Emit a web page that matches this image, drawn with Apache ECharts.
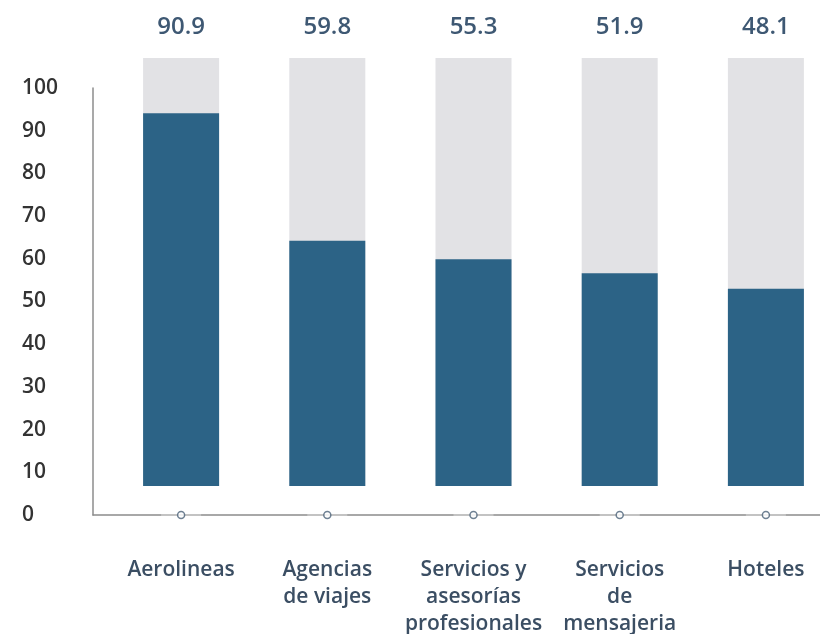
<!DOCTYPE html>
<html>
<head>
<meta charset="utf-8">
<script src="https://cdn.jsdelivr.net/npm/echarts@6/dist/echarts.min.js"></script>
<style>
  html, body { margin: 0; padding: 0; background: #ffffff; overflow: hidden; }
  /* the last category band runs slightly past the right edge of the view */
  #chart { width: 840px; height: 634px; }
</style>
</head>
<body>
<div id="chart"></div>
<script>
// Sector names (line breaks as printed under the axis)
const categories = [
  'Aerolineas',
  'Agencias\nde viajes',
  'Servicios y\nasesorías\nprofesionales',
  'Servicios\nde\nmensajeria',
  'Hoteles'
];
// Score per sector, also printed above each column
const values = [90.9, 59.8, 55.3, 51.9, 48.1];
// Zero-level markers sitting on the category axis
const baseline = [0, 0, 0, 0, 0];
// Value axis scale
const yMin = 0;
const yMax = 100;
const yStep = 10;

const FONT = 'Open Sans';
const axisGrey = '#8c8c8c';

const chart = echarts.init(document.getElementById('chart'), null, { renderer: 'canvas' });

// fixed placement: labels may sit close to the canvas edges
const gridBase = { containLabel: false, outerBoundsMode: 'none' };

chart.setOption({
  animation: false,
  grid: [
    // L-shaped axis frame with the 0–100 scale
    Object.assign({ left: 93, right: 20, top: 88, bottom: 119 }, gridBase),
    // category bands (labels and zero markers)
    Object.assign({ left: 108, right: 1, top: 88, bottom: 119 }, gridBase),
    // column area with grey tracks
    Object.assign({ left: 108, right: 1, top: 58, bottom: 148 }, gridBase)
  ],
  xAxis: [
    {
      type: 'value',
      gridIndex: 0,
      min: 0,
      max: 1,
      axisLine: { show: true, lineStyle: { color: axisGrey, width: 1.5 } },
      axisTick: { show: false },
      axisLabel: { show: false },
      splitLine: { show: false }
    },
    {
      type: 'category',
      gridIndex: 1,
      data: categories,
      axisLine: { show: false },
      axisTick: { show: false },
      axisLabel: {
        interval: 0,
        color: '#3b4e63',
        fontFamily: FONT,
        fontWeight: 600,
        fontSize: 21,
        lineHeight: 27,
        margin: 42
      }
    },
    {
      type: 'category',
      gridIndex: 2,
      position: 'top',
      data: categories,
      axisLine: { show: false },
      axisTick: { show: false },
      axisLabel: {
        interval: 0,
        formatter: (v, i) => values[i].toFixed(1),
        color: '#3e5873',
        fontFamily: FONT,
        fontWeight: 600,
        fontSize: 24,
        margin: 19
      }
    }
  ],
  yAxis: [
    {
      type: 'value',
      gridIndex: 0,
      min: yMin,
      max: yMax,
      interval: yStep,
      axisLine: { show: true, lineStyle: { color: axisGrey, width: 1.5 } },
      axisTick: { show: false },
      splitLine: { show: false },
      axisLabel: {
        align: 'left',
        margin: 71,
        color: '#333333',
        fontFamily: FONT,
        fontWeight: 600,
        fontSize: 21
      }
    },
    {
      type: 'value',
      gridIndex: 1,
      min: yMin,
      max: yMax,
      show: false
    },
    {
      type: 'value',
      gridIndex: 2,
      min: 0,
      max: 104.4,
      show: false
    }
  ],
  series: [
    {
      name: 'Puntaje',
      type: 'bar',
      xAxisIndex: 2,
      yAxisIndex: 2,
      data: values,
      barWidth: 76,
      itemStyle: { color: '#2c6386' },
      showBackground: true,
      backgroundStyle: { color: '#e2e2e5' }
    },
    {
      name: 'base-line',
      type: 'scatter',
      xAxisIndex: 1,
      yAxisIndex: 1,
      data: baseline,
      symbol: 'rect',
      symbolSize: [40, 2],
      itemStyle: { color: '#cacaca' },
      clip: false,
      silent: true,
      z: 5
    },
    {
      name: 'base-dot',
      type: 'scatter',
      xAxisIndex: 1,
      yAxisIndex: 1,
      data: baseline,
      symbol: 'circle',
      symbolSize: 7,
      itemStyle: { color: '#ffffff', borderColor: '#4b6278', borderWidth: 1.5 },
      clip: false,
      silent: true,
      z: 6
    }
  ]
});
</script>
</body>
</html>
